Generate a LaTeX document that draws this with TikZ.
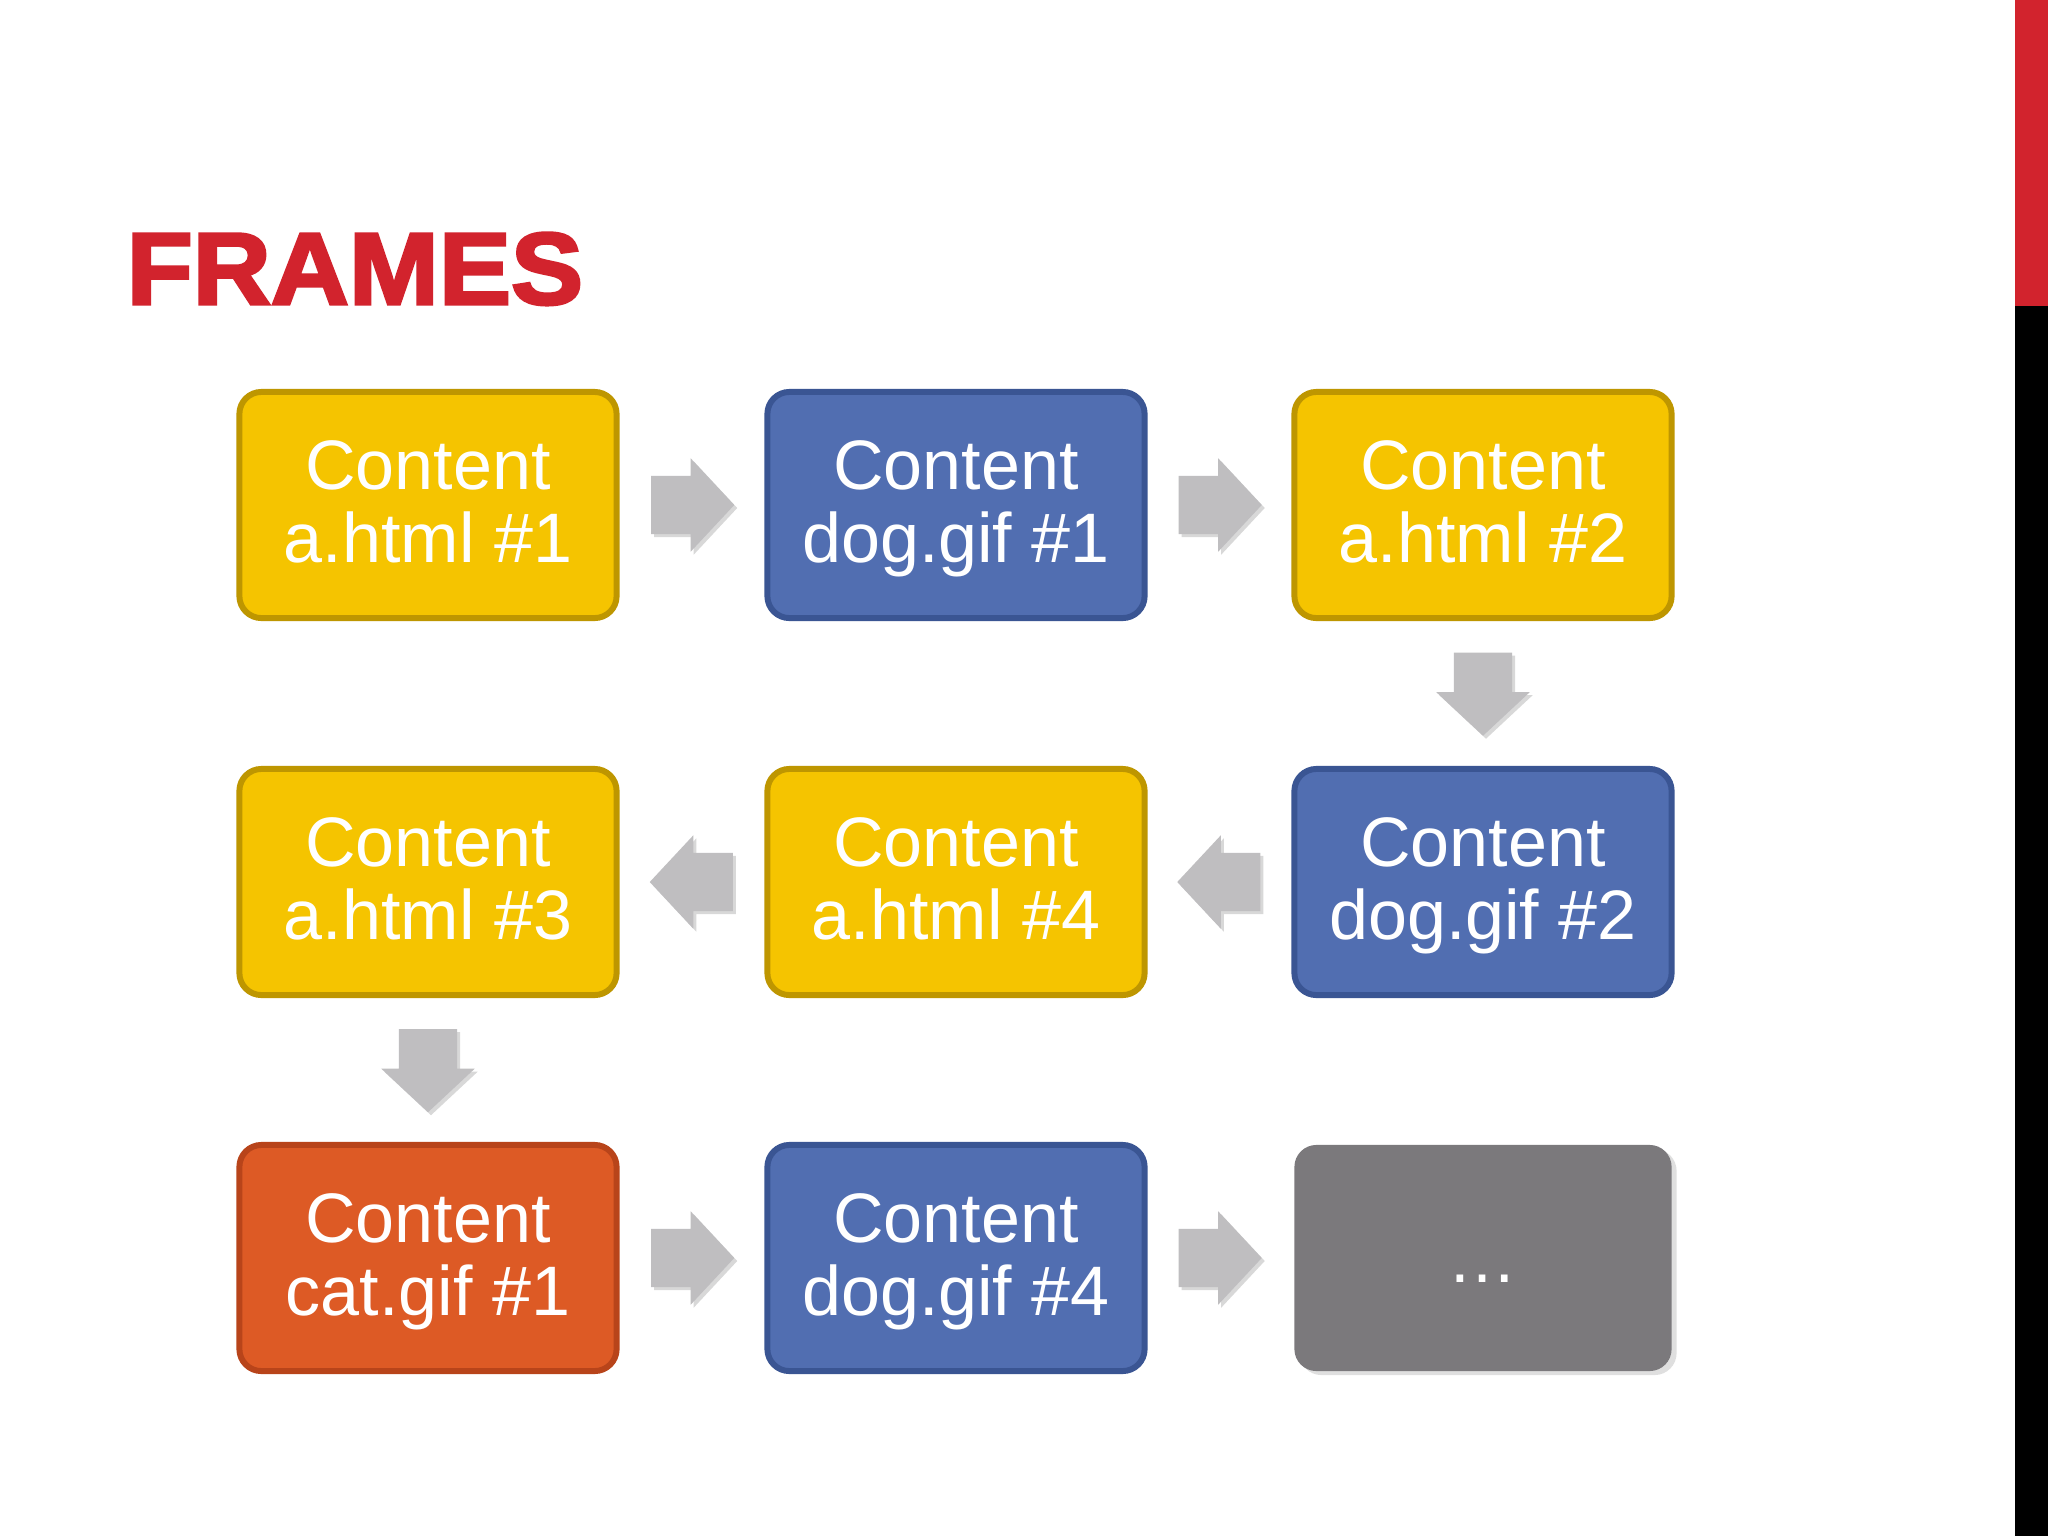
\documentclass[tikz,border=0pt]{standalone}
\usepackage{fontspec}
\setmainfont{Liberation Sans}
\newfontfamily\titlefont[FakeBold=3,FakeStretch=1.06]{Liberation Sans Bold}
\usepackage{tikz}
\usetikzlibrary{calc, shapes.arrows, shadows}

\definecolor{yelfill}{HTML}{F5C400}
\definecolor{yelline}{HTML}{BE9600}
\definecolor{bluefill}{HTML}{516EB1}
\definecolor{blueline}{HTML}{3A5593}
\definecolor{orgfill}{HTML}{DD5A25}
\definecolor{orgline}{HTML}{B8441A}
\definecolor{morefill}{HTML}{7B797C}
\definecolor{arrgray}{HTML}{BFBEC0}
\definecolor{titlered}{HTML}{D2232D}

% two lines of box text, with fixed struts
\newcommand{\cnt}[1]{\rule{0pt}{16.2pt}Content\\#1\rule[-4pt]{0pt}{4pt}}

\begin{document}
\begin{tikzpicture}[
        x=0.01cm, y=-0.01cm,
        bx/.style={rounded corners=0.22cm, line width=1.7pt, minimum width=3.77cm,
          minimum height=2.26cm, inner sep=0pt, align=center, text=white,
          font=\fontsize{19.92pt}{20.77pt}\selectfont},
        yel/.style={fill=yelfill, draw=yelline},
        blu/.style={fill=bluefill, draw=blueline},
        org/.style={fill=orgfill, draw=orgline},
        gry/.style={fill=morefill, draw=none,
          drop shadow={shadow xshift=0.05cm, shadow yshift=-0.04cm, opacity=0.25}},
        ar/.style={single arrow, fill=arrgray, inner xsep=0pt, inner ysep=0.285cm,
          minimum height=0.83cm, single arrow head extend=0.175cm, single arrow tip angle=94,
          anchor=tail,
          drop shadow={shadow xshift=0.03cm, shadow yshift=-0.03cm, opacity=0.3}}
      ]
      \useasboundingbox (0,0) rectangle (2048,1536);
      \fill[white] (0,0) rectangle (2048,1536);
      % side bar
      \fill[titlered] (2015,0) rectangle (2048,306);
      \fill[black] (2015,306) rectangle (2048,1536);
      \node[anchor=base west, inner sep=0pt, text=titlered,
        font=\titlefont\fontsize{29pt}{30pt}\selectfont] (title) at (126,304) {FRAMES};
      % frame boxes
      \foreach \nm/\x/\y/\col/\txt in {a1/428/505/yel/a.html \#1, d1/956/505/blu/dog.gif \#1,
          a2/1483/505/yel/a.html \#2, a3/428/882/yel/a.html \#3, a4/956/882/yel/a.html \#4,
          d2/1483/882/blu/dog.gif \#2, c1/428/1258/org/cat.gif \#1, d4/956/1258/blu/dog.gif \#4} {
        \node[bx, \col] (\nm) at (\x,\y) {\cnt{\txt}};
      }
      \node[bx, gry] (more) at (1483,1258) {\vphantom{C}\ldots};
      % block arrows
      \foreach \s/\t/\dir in {a1/d1/0, d1/a2/0, a2/d2/270, d2/a4/180, a4/a3/180,
          a3/c1/270, c1/d4/0, d4/more/0} {
        \node[ar, rotate=\dir] (\s-\t) at ($(\s)!0.5!(\t)!-0.415cm!(\t)$) {};
      }
    \end{tikzpicture}
\end{document}
